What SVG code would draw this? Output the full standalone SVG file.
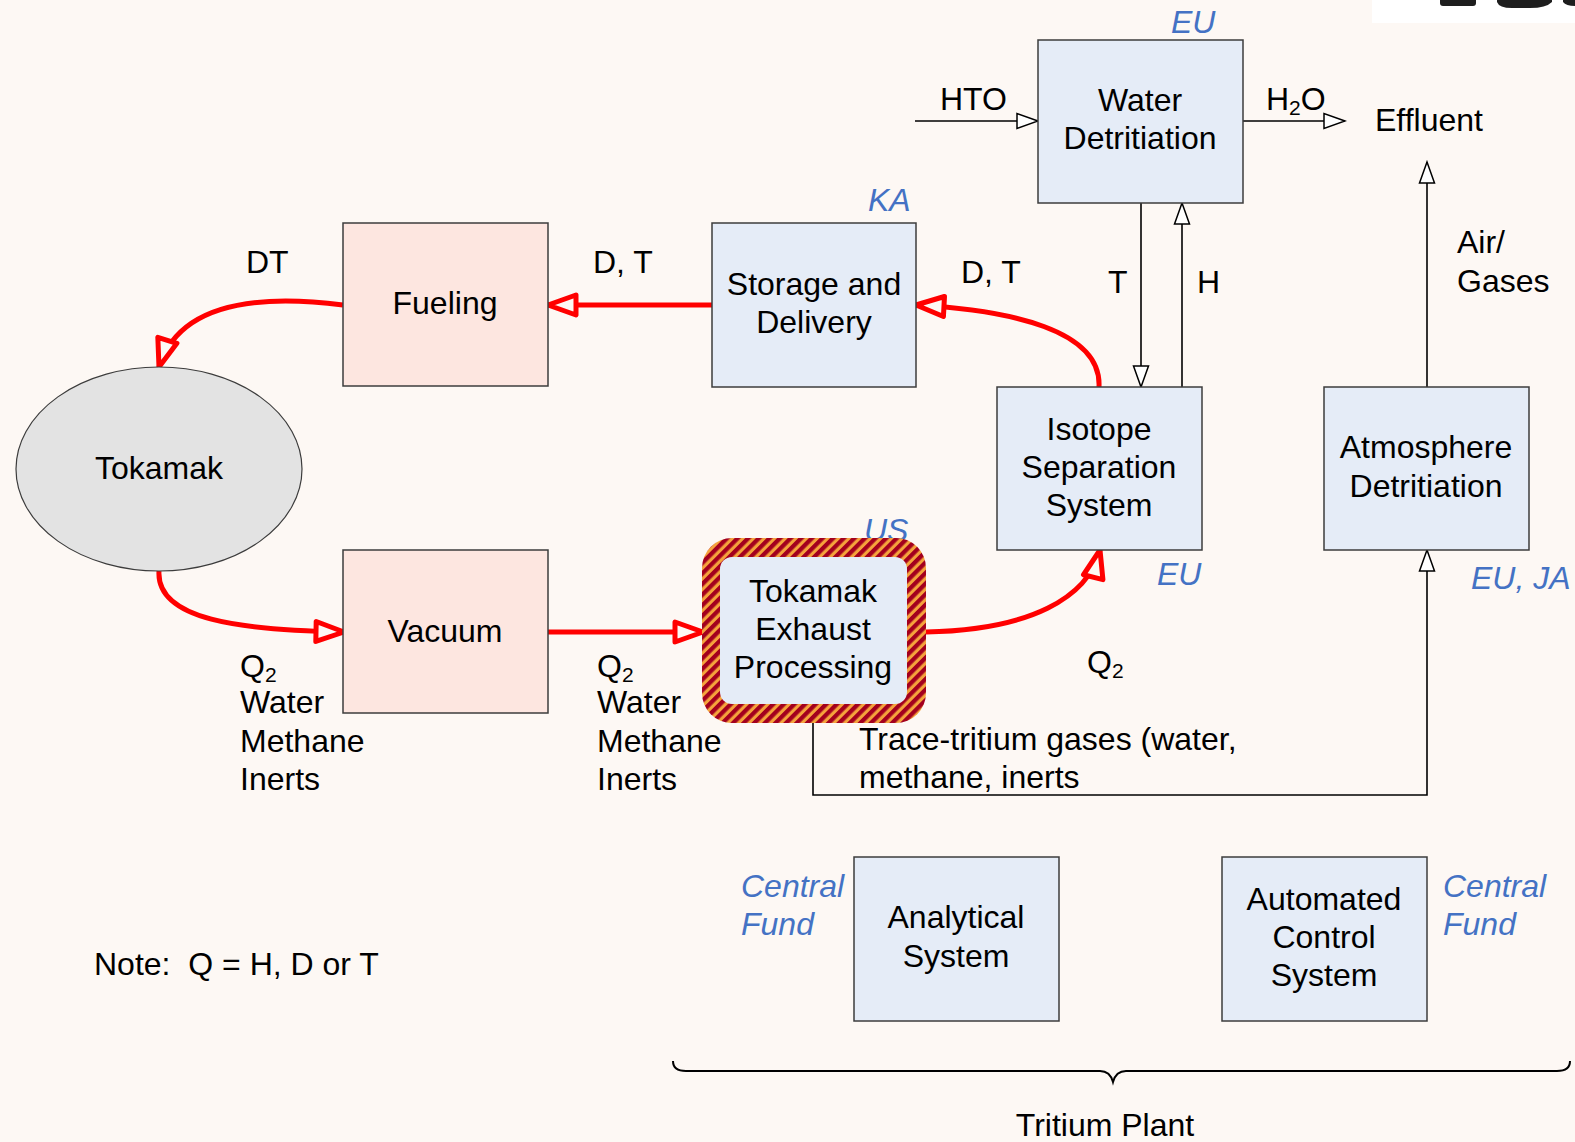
<svg xmlns="http://www.w3.org/2000/svg" width="1575" height="1142" viewBox="0 0 1575 1142">
  <defs>
    <style>
      text { font-family: "Liberation Sans", Arial, sans-serif; font-size: 32px; fill: #000; }
      .c { text-anchor: middle; }
      .tag { fill: #4472C4; font-style: italic; }
      .sub { font-size: 21px; }
      .box { stroke: #3c3c3c; stroke-width: 1.5; }
      .blue { fill: #E5ECF7; }
      .pink { fill: #FDE6E0; }
      .red { fill: none; stroke: #FF0000; stroke-width: 5; marker-end: url(#redHead); }
      .blk { fill: none; stroke: #000; stroke-width: 1.6; marker-end: url(#openHead); }
    </style>
    <marker id="redHead" markerUnits="userSpaceOnUse" viewBox="-4 -16 40 32" markerWidth="40" markerHeight="32" refX="31" refY="0" orient="auto">
      <path d="M31,0 L3,-10 L3,10 Z" fill="#FDF8F4" stroke="#FF0000" stroke-width="5" stroke-linejoin="round"/>
    </marker>
    <marker id="openHead" markerUnits="userSpaceOnUse" viewBox="-2 -10 26 20" markerWidth="26" markerHeight="20" refX="22" refY="0" orient="auto">
      <path d="M22,0 L1,-7.5 L1,7.5 Z" fill="#fff" stroke="#000" stroke-width="1.5"/>
    </marker>
    <pattern id="hatch" patternUnits="userSpaceOnUse" width="7.5" height="7.5" patternTransform="rotate(45)">
      <rect width="7.5" height="7.5" fill="#F5A33C"/>
      <rect width="4.3" height="7.5" fill="#A3001E"/>
    </pattern>
  </defs>

  <!-- page -->
  <rect width="1575" height="1142" fill="#FDF8F4"/>

  <!-- corner banner -->
  <g id="banner">
    <rect x="1372" y="0" width="203" height="23" fill="#fff"/>
    <rect x="1440" y="-6" width="36" height="12" rx="3" fill="#1e1e1e"/>
    <path d="M1497,0 L1552,0 L1552,2 Q1546,8 1530,8 L1512,8 Q1499,8 1497,2 Z" fill="#1e1e1e"/>
    <path d="M1563,0 L1575,0 L1575,6 Q1566,6 1563,2 Z" fill="#1e1e1e"/>
  </g>

  <!-- connectors -->
  <g id="connectors">
    <path class="red" d="M343,305 C265,295 180,300 159,367"/>
    <path class="red" d="M712,305 L548,305"/>
    <path class="red" d="M1099,387 C1102,330 1010,310 916,305"/>
    <path class="red" d="M159,571 C156,620 240,630 344,632"/>
    <path class="red" d="M548,632 L703,632"/>
    <path class="red" d="M926,632 C1030,630 1088,598 1100,550"/>

    <path class="blk" d="M915,121 L1038,121"/>
    <path class="blk" d="M1243,121 L1345,121"/>
    <path class="blk" d="M1141,203 L1141,387"/>
    <path class="blk" d="M1182,387 L1182,203"/>
    <path class="blk" d="M1427,387 L1427,162"/>
    <path class="blk" d="M813,723 L813,795 L1427,795 L1427,550"/>
  </g>

  <!-- connector labels -->
  <g id="labels">
    <text x="940" y="110">HTO</text>
    <text x="1266" y="110">H<tspan class="sub" dy="5">2</tspan><tspan dy="-5">O</tspan></text>
    <text x="1375" y="131">Effluent</text>
    <text x="246" y="273">DT</text>
    <text x="593" y="273">D, T</text>
    <text x="961" y="283">D, T</text>
    <text x="1108" y="293">T</text>
    <text x="1197" y="293">H</text>
    <text x="1457" y="253">Air/</text>
    <text x="1457" y="292">Gases</text>
    <text x="240" y="677">Q<tspan class="sub" dy="5">2</tspan></text>
    <text x="240" y="713">Water</text>
    <text x="240" y="752">Methane</text>
    <text x="240" y="790">Inerts</text>
    <text x="597" y="677">Q<tspan class="sub" dy="5">2</tspan></text>
    <text x="597" y="713">Water</text>
    <text x="597" y="752">Methane</text>
    <text x="597" y="790">Inerts</text>
    <text x="1087" y="673">Q<tspan class="sub" dy="5">2</tspan></text>
    <text x="859" y="750">Trace-tritium gases (water,</text>
    <text x="859" y="788">methane, inerts</text>
    <text x="94" y="975" xml:space="preserve">Note:  Q = H, D or T</text>
  </g>

  <!-- responsibility tags -->
  <g id="tags">
    <text class="tag" x="1171" y="33">EU</text>
    <text class="tag" x="868" y="211">KA</text>
    <text class="tag" x="864" y="541">US</text>
    <text class="tag" x="1157" y="585">EU</text>
    <text class="tag" x="1471" y="589">EU, JA</text>
    <text class="tag" x="741" y="897">Central</text>
    <text class="tag" x="741" y="935">Fund</text>
    <text class="tag" x="1443" y="897">Central</text>
    <text class="tag" x="1443" y="935">Fund</text>
  </g>

  <!-- nodes -->
  <g id="tokamak">
    <ellipse cx="159" cy="469" rx="143" ry="102" fill="#E3E3E3" stroke="#3c3c3c" stroke-width="1.2"/>
    <text class="c" x="159" y="479">Tokamak</text>
  </g>
  <g id="fueling">
    <rect class="box pink" x="343" y="223" width="205" height="163"/>
    <text class="c" x="445" y="314">Fueling</text>
  </g>
  <g id="storage">
    <rect class="box blue" x="712" y="223" width="204" height="164"/>
    <text class="c" x="814" y="295">Storage and</text>
    <text class="c" x="814" y="333">Delivery</text>
  </g>
  <g id="water-detritiation">
    <rect class="box blue" x="1038" y="40" width="205" height="163"/>
    <text class="c" x="1140" y="111">Water</text>
    <text class="c" x="1140" y="149">Detritiation</text>
  </g>
  <g id="isotope-separation">
    <rect class="box blue" x="997" y="387" width="205" height="163"/>
    <text class="c" x="1099" y="440">Isotope</text>
    <text class="c" x="1099" y="478">Separation</text>
    <text class="c" x="1099" y="516">System</text>
  </g>
  <g id="atmosphere-detritiation">
    <rect class="box blue" x="1324" y="387" width="205" height="163"/>
    <text class="c" x="1426" y="458">Atmosphere</text>
    <text class="c" x="1426" y="497">Detritiation</text>
  </g>
  <g id="vacuum">
    <rect class="box pink" x="343" y="550" width="205" height="163"/>
    <text class="c" x="445" y="642">Vacuum</text>
  </g>
  <g id="exhaust-processing">
    <rect x="702" y="538" width="224" height="185" rx="30" fill="url(#hatch)"/>
    <rect class="blue" x="720" y="557" width="187" height="147" rx="12"/>
    <text class="c" x="813" y="602">Tokamak</text>
    <text class="c" x="813" y="640">Exhaust</text>
    <text class="c" x="813" y="678">Processing</text>
  </g>
  <g id="analytical">
    <rect class="box blue" x="854" y="857" width="205" height="164"/>
    <text class="c" x="956" y="928">Analytical</text>
    <text class="c" x="956" y="967">System</text>
  </g>
  <g id="automated-control">
    <rect class="box blue" x="1222" y="857" width="205" height="164"/>
    <text class="c" x="1324" y="910">Automated</text>
    <text class="c" x="1324" y="948">Control</text>
    <text class="c" x="1324" y="986">System</text>
  </g>

  <!-- grouping brace -->
  <g id="tritium-plant">
    <path d="M673,1061 Q673,1071 686,1071 L1100,1071 Q1110,1071 1113,1082 Q1116,1071 1126,1071 L1557,1071 Q1570,1071 1570,1061" fill="none" stroke="#000" stroke-width="2"/>
    <text class="c" x="1105" y="1136">Tritium Plant</text>
  </g>
</svg>
